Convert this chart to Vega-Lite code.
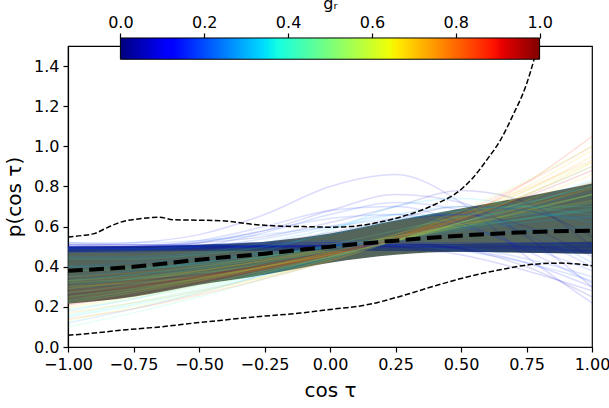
{
  "$schema": "https://vega.github.io/schema/vega-lite/v6.json",
  "width": 524,
  "height": 301,
  "autosize": {"type": "none"},
  "padding": {"left": 68, "top": 46, "right": 17, "bottom": 61},
  "background": "white",
  "config": {
    "font": "DejaVu Sans",
    "view": {"stroke": "black", "strokeWidth": 1.2},
    "axis": {
      "labelFont": "DejaVu Sans", "titleFont": "DejaVu Sans",
      "labelFontSize": 16, "titleFontSize": 20, "titleFontWeight": "normal",
      "labelColor": "black", "titleColor": "black", "tickColor": "black", "domainColor": "black",
      "tickSize": 5, "tickWidth": 1.2, "domainWidth": 1.2, "grid": false,
      "labelFlush": false, "labelOverlap": false
    }
  },
  "datasets": {
    "band": [
      {"x": -1, "lo": 0.215, "hi": 0.50},
      {"x": -0.75, "lo": 0.25, "hi": 0.50},
      {"x": -0.5, "lo": 0.31, "hi": 0.51},
      {"x": -0.25, "lo": 0.36, "hi": 0.525},
      {"x": 0, "lo": 0.42, "hi": 0.565},
      {"x": 0.25, "lo": 0.46, "hi": 0.63},
      {"x": 0.5, "lo": 0.475, "hi": 0.69},
      {"x": 0.75, "lo": 0.47, "hi": 0.75},
      {"x": 1, "lo": 0.465, "hi": 0.815}
    ],
    "blue": [
      {"x": -1, "lo": 0.472, "hi": 0.50},
      {"x": -0.5, "lo": 0.478, "hi": 0.508},
      {"x": 0, "lo": 0.48, "hi": 0.51},
      {"x": 0.5, "lo": 0.475, "hi": 0.515},
      {"x": 1, "lo": 0.465, "hi": 0.525}
    ],
    "lines": [
      {"id":1,"g":0.03,"x":-1,"p":0.5},{"id":1,"g":0.03,"x":-0.75,"p":0.5},{"id":1,"g":0.03,"x":-0.5,"p":0.5},{"id":1,"g":0.03,"x":-0.25,"p":0.5},{"id":1,"g":0.03,"x":0,"p":0.5},{"id":1,"g":0.03,"x":0.25,"p":0.5},{"id":1,"g":0.03,"x":0.5,"p":0.5},{"id":1,"g":0.03,"x":0.75,"p":0.5},{"id":1,"g":0.03,"x":1,"p":0.5},
      {"id":2,"g":0.06,"x":-1,"p":0.49},{"id":2,"g":0.06,"x":-0.75,"p":0.49},{"id":2,"g":0.06,"x":-0.5,"p":0.495},{"id":2,"g":0.06,"x":-0.25,"p":0.5},{"id":2,"g":0.06,"x":0,"p":0.505},{"id":2,"g":0.06,"x":0.25,"p":0.51},{"id":2,"g":0.06,"x":0.5,"p":0.51},{"id":2,"g":0.06,"x":0.75,"p":0.5},{"id":2,"g":0.06,"x":1,"p":0.48},
      {"id":3,"g":0.09,"x":-1,"p":0.51},{"id":3,"g":0.09,"x":-0.75,"p":0.51},{"id":3,"g":0.09,"x":-0.5,"p":0.505},{"id":3,"g":0.09,"x":-0.25,"p":0.5},{"id":3,"g":0.09,"x":0,"p":0.5},{"id":3,"g":0.09,"x":0.25,"p":0.5},{"id":3,"g":0.09,"x":0.5,"p":0.495},{"id":3,"g":0.09,"x":0.75,"p":0.49},{"id":3,"g":0.09,"x":1,"p":0.475},
      {"id":4,"g":0.12,"x":-1,"p":0.48},{"id":4,"g":0.12,"x":-0.75,"p":0.485},{"id":4,"g":0.12,"x":-0.5,"p":0.49},{"id":4,"g":0.12,"x":-0.25,"p":0.5},{"id":4,"g":0.12,"x":0,"p":0.51},{"id":4,"g":0.12,"x":0.25,"p":0.515},{"id":4,"g":0.12,"x":0.5,"p":0.52},{"id":4,"g":0.12,"x":0.75,"p":0.52},{"id":4,"g":0.12,"x":1,"p":0.515},
      {"id":5,"g":0.08,"x":-1,"p":0.5},{"id":5,"g":0.08,"x":-0.75,"p":0.5},{"id":5,"g":0.08,"x":-0.5,"p":0.52},{"id":5,"g":0.08,"x":-0.25,"p":0.58},{"id":5,"g":0.08,"x":0,"p":0.68},{"id":5,"g":0.08,"x":0.25,"p":0.76},{"id":5,"g":0.08,"x":0.5,"p":0.72},{"id":5,"g":0.08,"x":0.75,"p":0.55},{"id":5,"g":0.08,"x":1,"p":0.3},
      {"id":6,"g":0.14,"x":-1,"p":0.48},{"id":6,"g":0.14,"x":-0.75,"p":0.47},{"id":6,"g":0.14,"x":-0.5,"p":0.5},{"id":6,"g":0.14,"x":-0.25,"p":0.57},{"id":6,"g":0.14,"x":0,"p":0.66},{"id":6,"g":0.14,"x":0.25,"p":0.72},{"id":6,"g":0.14,"x":0.5,"p":0.68},{"id":6,"g":0.14,"x":0.75,"p":0.56},{"id":6,"g":0.14,"x":1,"p":0.4},
      {"id":7,"g":0.05,"x":-1,"p":0.52},{"id":7,"g":0.05,"x":-0.75,"p":0.51},{"id":7,"g":0.05,"x":-0.5,"p":0.52},{"id":7,"g":0.05,"x":-0.25,"p":0.55},{"id":7,"g":0.05,"x":0,"p":0.62},{"id":7,"g":0.05,"x":0.25,"p":0.7},{"id":7,"g":0.05,"x":0.5,"p":0.78},{"id":7,"g":0.05,"x":0.75,"p":0.72},{"id":7,"g":0.05,"x":1,"p":0.5},
      {"id":8,"g":0.18,"x":-1,"p":0.5},{"id":8,"g":0.18,"x":-0.75,"p":0.49},{"id":8,"g":0.18,"x":-0.5,"p":0.5},{"id":8,"g":0.18,"x":-0.25,"p":0.54},{"id":8,"g":0.18,"x":0,"p":0.6},{"id":8,"g":0.18,"x":0.25,"p":0.66},{"id":8,"g":0.18,"x":0.5,"p":0.66},{"id":8,"g":0.18,"x":0.75,"p":0.58},{"id":8,"g":0.18,"x":1,"p":0.42},
      {"id":9,"g":0.1,"x":-1,"p":0.51},{"id":9,"g":0.1,"x":-0.75,"p":0.52},{"id":9,"g":0.1,"x":-0.5,"p":0.56},{"id":9,"g":0.1,"x":-0.25,"p":0.66},{"id":9,"g":0.1,"x":0,"p":0.8},{"id":9,"g":0.1,"x":0.25,"p":0.86},{"id":9,"g":0.1,"x":0.5,"p":0.72},{"id":9,"g":0.1,"x":0.75,"p":0.45},{"id":9,"g":0.1,"x":1,"p":0.22},
      {"id":10,"g":0.04,"x":-1,"p":0.5},{"id":10,"g":0.04,"x":-0.75,"p":0.5},{"id":10,"g":0.04,"x":-0.5,"p":0.505},{"id":10,"g":0.04,"x":-0.25,"p":0.51},{"id":10,"g":0.04,"x":0,"p":0.52},{"id":10,"g":0.04,"x":0.25,"p":0.52},{"id":10,"g":0.04,"x":0.5,"p":0.49},{"id":10,"g":0.04,"x":0.75,"p":0.4},{"id":10,"g":0.04,"x":1,"p":0.25},
      {"id":11,"g":0.11,"x":-1,"p":0.49},{"id":11,"g":0.11,"x":-0.75,"p":0.495},{"id":11,"g":0.11,"x":-0.5,"p":0.5},{"id":11,"g":0.11,"x":-0.25,"p":0.505},{"id":11,"g":0.11,"x":0,"p":0.51},{"id":11,"g":0.11,"x":0.25,"p":0.51},{"id":11,"g":0.11,"x":0.5,"p":0.49},{"id":11,"g":0.11,"x":0.75,"p":0.42},{"id":11,"g":0.11,"x":1,"p":0.3},
      {"id":12,"g":0.16,"x":-1,"p":0.5},{"id":12,"g":0.16,"x":-0.75,"p":0.5},{"id":12,"g":0.16,"x":-0.5,"p":0.51},{"id":12,"g":0.16,"x":-0.25,"p":0.52},{"id":12,"g":0.16,"x":0,"p":0.53},{"id":12,"g":0.16,"x":0.25,"p":0.53},{"id":12,"g":0.16,"x":0.5,"p":0.5},{"id":12,"g":0.16,"x":0.75,"p":0.44},{"id":12,"g":0.16,"x":1,"p":0.35},
      {"id":13,"g":0.25,"x":-1,"p":0.12},{"id":13,"g":0.25,"x":-0.75,"p":0.19},{"id":13,"g":0.25,"x":-0.5,"p":0.27},{"id":13,"g":0.25,"x":-0.25,"p":0.36},{"id":13,"g":0.25,"x":0,"p":0.45},{"id":13,"g":0.25,"x":0.25,"p":0.54},{"id":13,"g":0.25,"x":0.5,"p":0.63},{"id":13,"g":0.25,"x":0.75,"p":0.72},{"id":13,"g":0.25,"x":1,"p":0.8},
      {"id":14,"g":0.35,"x":-1,"p":0.15},{"id":14,"g":0.35,"x":-0.75,"p":0.21},{"id":14,"g":0.35,"x":-0.5,"p":0.28},{"id":14,"g":0.35,"x":-0.25,"p":0.36},{"id":14,"g":0.35,"x":0,"p":0.44},{"id":14,"g":0.35,"x":0.25,"p":0.53},{"id":14,"g":0.35,"x":0.5,"p":0.62},{"id":14,"g":0.35,"x":0.75,"p":0.72},{"id":14,"g":0.35,"x":1,"p":0.83},
      {"id":15,"g":0.45,"x":-1,"p":0.1},{"id":15,"g":0.45,"x":-0.75,"p":0.17},{"id":15,"g":0.45,"x":-0.5,"p":0.25},{"id":15,"g":0.45,"x":-0.25,"p":0.34},{"id":15,"g":0.45,"x":0,"p":0.43},{"id":15,"g":0.45,"x":0.25,"p":0.53},{"id":15,"g":0.45,"x":0.5,"p":0.64},{"id":15,"g":0.45,"x":0.75,"p":0.76},{"id":15,"g":0.45,"x":1,"p":0.9},
      {"id":16,"g":0.6,"x":-1,"p":0.13},{"id":16,"g":0.6,"x":-0.75,"p":0.2},{"id":16,"g":0.6,"x":-0.5,"p":0.27},{"id":16,"g":0.6,"x":-0.25,"p":0.35},{"id":16,"g":0.6,"x":0,"p":0.44},{"id":16,"g":0.6,"x":0.25,"p":0.54},{"id":16,"g":0.6,"x":0.5,"p":0.65},{"id":16,"g":0.6,"x":0.75,"p":0.78},{"id":16,"g":0.6,"x":1,"p":0.92},
      {"id":17,"g":0.75,"x":-1,"p":0.17},{"id":17,"g":0.75,"x":-0.75,"p":0.22},{"id":17,"g":0.75,"x":-0.5,"p":0.28},{"id":17,"g":0.75,"x":-0.25,"p":0.35},{"id":17,"g":0.75,"x":0,"p":0.43},{"id":17,"g":0.75,"x":0.25,"p":0.53},{"id":17,"g":0.75,"x":0.5,"p":0.64},{"id":17,"g":0.75,"x":0.75,"p":0.78},{"id":17,"g":0.75,"x":1,"p":0.95},
      {"id":18,"g":0.85,"x":-1,"p":0.14},{"id":18,"g":0.85,"x":-0.75,"p":0.19},{"id":18,"g":0.85,"x":-0.5,"p":0.26},{"id":18,"g":0.85,"x":-0.25,"p":0.34},{"id":18,"g":0.85,"x":0,"p":0.43},{"id":18,"g":0.85,"x":0.25,"p":0.54},{"id":18,"g":0.85,"x":0.5,"p":0.67},{"id":18,"g":0.85,"x":0.75,"p":0.82},{"id":18,"g":0.85,"x":1,"p":1.0},
      {"id":19,"g":0.3,"x":-1,"p":0.18},{"id":19,"g":0.3,"x":-0.75,"p":0.24},{"id":19,"g":0.3,"x":-0.5,"p":0.31},{"id":19,"g":0.3,"x":-0.25,"p":0.38},{"id":19,"g":0.3,"x":0,"p":0.46},{"id":19,"g":0.3,"x":0.25,"p":0.54},{"id":19,"g":0.3,"x":0.5,"p":0.62},{"id":19,"g":0.3,"x":0.75,"p":0.7},{"id":19,"g":0.3,"x":1,"p":0.77},
      {"id":20,"g":0.22,"x":-1,"p":0.4},{"id":20,"g":0.22,"x":-0.75,"p":0.42},{"id":20,"g":0.22,"x":-0.5,"p":0.44},{"id":20,"g":0.22,"x":-0.25,"p":0.47},{"id":20,"g":0.22,"x":0,"p":0.5},{"id":20,"g":0.22,"x":0.25,"p":0.53},{"id":20,"g":0.22,"x":0.5,"p":0.56},{"id":20,"g":0.22,"x":0.75,"p":0.58},{"id":20,"g":0.22,"x":1,"p":0.6},
      {"id":21,"g":0.28,"x":-1,"p":0.35},{"id":21,"g":0.28,"x":-0.75,"p":0.38},{"id":21,"g":0.28,"x":-0.5,"p":0.42},{"id":21,"g":0.28,"x":-0.25,"p":0.46},{"id":21,"g":0.28,"x":0,"p":0.5},{"id":21,"g":0.28,"x":0.25,"p":0.54},{"id":21,"g":0.28,"x":0.5,"p":0.58},{"id":21,"g":0.28,"x":0.75,"p":0.62},{"id":21,"g":0.28,"x":1,"p":0.65},
      {"id":22,"g":0.4,"x":-1,"p":0.3},{"id":22,"g":0.4,"x":-0.75,"p":0.34},{"id":22,"g":0.4,"x":-0.5,"p":0.39},{"id":22,"g":0.4,"x":-0.25,"p":0.44},{"id":22,"g":0.4,"x":0,"p":0.49},{"id":22,"g":0.4,"x":0.25,"p":0.54},{"id":22,"g":0.4,"x":0.5,"p":0.59},{"id":22,"g":0.4,"x":0.75,"p":0.64},{"id":22,"g":0.4,"x":1,"p":0.69},
      {"id":23,"g":0.5,"x":-1,"p":0.27},{"id":23,"g":0.5,"x":-0.75,"p":0.31},{"id":23,"g":0.5,"x":-0.5,"p":0.36},{"id":23,"g":0.5,"x":-0.25,"p":0.42},{"id":23,"g":0.5,"x":0,"p":0.48},{"id":23,"g":0.5,"x":0.25,"p":0.54},{"id":23,"g":0.5,"x":0.5,"p":0.6},{"id":23,"g":0.5,"x":0.75,"p":0.66},{"id":23,"g":0.5,"x":1,"p":0.72},
      {"id":24,"g":0.55,"x":-1,"p":0.23},{"id":24,"g":0.55,"x":-0.75,"p":0.28},{"id":24,"g":0.55,"x":-0.5,"p":0.34},{"id":24,"g":0.55,"x":-0.25,"p":0.4},{"id":24,"g":0.55,"x":0,"p":0.47},{"id":24,"g":0.55,"x":0.25,"p":0.54},{"id":24,"g":0.55,"x":0.5,"p":0.61},{"id":24,"g":0.55,"x":0.75,"p":0.68},{"id":24,"g":0.55,"x":1,"p":0.76},
      {"id":25,"g":0.65,"x":-1,"p":0.25},{"id":25,"g":0.65,"x":-0.75,"p":0.29},{"id":25,"g":0.65,"x":-0.5,"p":0.34},{"id":25,"g":0.65,"x":-0.25,"p":0.4},{"id":25,"g":0.65,"x":0,"p":0.46},{"id":25,"g":0.65,"x":0.25,"p":0.53},{"id":25,"g":0.65,"x":0.5,"p":0.6},{"id":25,"g":0.65,"x":0.75,"p":0.68},{"id":25,"g":0.65,"x":1,"p":0.76},
      {"id":26,"g":0.7,"x":-1,"p":0.22},{"id":26,"g":0.7,"x":-0.75,"p":0.27},{"id":26,"g":0.7,"x":-0.5,"p":0.33},{"id":26,"g":0.7,"x":-0.25,"p":0.4},{"id":26,"g":0.7,"x":0,"p":0.47},{"id":26,"g":0.7,"x":0.25,"p":0.54},{"id":26,"g":0.7,"x":0.5,"p":0.62},{"id":26,"g":0.7,"x":0.75,"p":0.7},{"id":26,"g":0.7,"x":1,"p":0.79},
      {"id":27,"g":0.8,"x":-1,"p":0.24},{"id":27,"g":0.8,"x":-0.75,"p":0.28},{"id":27,"g":0.8,"x":-0.5,"p":0.33},{"id":27,"g":0.8,"x":-0.25,"p":0.39},{"id":27,"g":0.8,"x":0,"p":0.46},{"id":27,"g":0.8,"x":0.25,"p":0.53},{"id":27,"g":0.8,"x":0.5,"p":0.61},{"id":27,"g":0.8,"x":0.75,"p":0.7},{"id":27,"g":0.8,"x":1,"p":0.8},
      {"id":28,"g":0.9,"x":-1,"p":0.21},{"id":28,"g":0.9,"x":-0.75,"p":0.26},{"id":28,"g":0.9,"x":-0.5,"p":0.32},{"id":28,"g":0.9,"x":-0.25,"p":0.39},{"id":28,"g":0.9,"x":0,"p":0.46},{"id":28,"g":0.9,"x":0.25,"p":0.54},{"id":28,"g":0.9,"x":0.5,"p":0.63},{"id":28,"g":0.9,"x":0.75,"p":0.72},{"id":28,"g":0.9,"x":1,"p":0.82},
      {"id":29,"g":0.95,"x":-1,"p":0.26},{"id":29,"g":0.95,"x":-0.75,"p":0.3},{"id":29,"g":0.95,"x":-0.5,"p":0.35},{"id":29,"g":0.95,"x":-0.25,"p":0.41},{"id":29,"g":0.95,"x":0,"p":0.47},{"id":29,"g":0.95,"x":0.25,"p":0.54},{"id":29,"g":0.95,"x":0.5,"p":0.61},{"id":29,"g":0.95,"x":0.75,"p":0.69},{"id":29,"g":0.95,"x":1,"p":0.77},
      {"id":30,"g":0.38,"x":-1,"p":0.33},{"id":30,"g":0.38,"x":-0.75,"p":0.36},{"id":30,"g":0.38,"x":-0.5,"p":0.4},{"id":30,"g":0.38,"x":-0.25,"p":0.45},{"id":30,"g":0.38,"x":0,"p":0.5},{"id":30,"g":0.38,"x":0.25,"p":0.55},{"id":30,"g":0.38,"x":0.5,"p":0.6},{"id":30,"g":0.38,"x":0.75,"p":0.64},{"id":30,"g":0.38,"x":1,"p":0.68},
      {"id":31,"g":0.62,"x":-1,"p":0.29},{"id":31,"g":0.62,"x":-0.75,"p":0.33},{"id":31,"g":0.62,"x":-0.5,"p":0.38},{"id":31,"g":0.62,"x":-0.25,"p":0.43},{"id":31,"g":0.62,"x":0,"p":0.49},{"id":31,"g":0.62,"x":0.25,"p":0.55},{"id":31,"g":0.62,"x":0.5,"p":0.61},{"id":31,"g":0.62,"x":0.75,"p":0.67},{"id":31,"g":0.62,"x":1,"p":0.73},
      {"id":32,"g":0.7,"x":-1,"p":0.3},{"id":32,"g":0.7,"x":-0.75,"p":0.32},{"id":32,"g":0.7,"x":-0.5,"p":0.35},{"id":32,"g":0.7,"x":-0.25,"p":0.4},{"id":32,"g":0.7,"x":0,"p":0.46},{"id":32,"g":0.7,"x":0.25,"p":0.55},{"id":32,"g":0.7,"x":0.5,"p":0.66},{"id":32,"g":0.7,"x":0.75,"p":0.8},{"id":32,"g":0.7,"x":1,"p":0.98},
      {"id":33,"g":0.88,"x":-1,"p":0.28},{"id":33,"g":0.88,"x":-0.75,"p":0.31},{"id":33,"g":0.88,"x":-0.5,"p":0.35},{"id":33,"g":0.88,"x":-0.25,"p":0.4},{"id":33,"g":0.88,"x":0,"p":0.46},{"id":33,"g":0.88,"x":0.25,"p":0.54},{"id":33,"g":0.88,"x":0.5,"p":0.65},{"id":33,"g":0.88,"x":0.75,"p":0.82},{"id":33,"g":0.88,"x":1,"p":1.05},
      {"id":34,"g":0.58,"x":-1,"p":0.32},{"id":34,"g":0.58,"x":-0.75,"p":0.34},{"id":34,"g":0.58,"x":-0.5,"p":0.37},{"id":34,"g":0.58,"x":-0.25,"p":0.41},{"id":34,"g":0.58,"x":0,"p":0.47},{"id":34,"g":0.58,"x":0.25,"p":0.56},{"id":34,"g":0.58,"x":0.5,"p":0.68},{"id":34,"g":0.58,"x":0.75,"p":0.83},{"id":34,"g":0.58,"x":1,"p":1.0},
      {"id":35,"g":0.78,"x":-1,"p":0.35},{"id":35,"g":0.78,"x":-0.75,"p":0.37},{"id":35,"g":0.78,"x":-0.5,"p":0.4},{"id":35,"g":0.78,"x":-0.25,"p":0.44},{"id":35,"g":0.78,"x":0,"p":0.49},{"id":35,"g":0.78,"x":0.25,"p":0.56},{"id":35,"g":0.78,"x":0.5,"p":0.66},{"id":35,"g":0.78,"x":0.75,"p":0.79},{"id":35,"g":0.78,"x":1,"p":0.93},
      {"id":36,"g":0.33,"x":-1,"p":0.4},{"id":36,"g":0.33,"x":-0.75,"p":0.4},{"id":36,"g":0.33,"x":-0.5,"p":0.42},{"id":36,"g":0.33,"x":-0.25,"p":0.48},{"id":36,"g":0.33,"x":0,"p":0.58},{"id":36,"g":0.33,"x":0.25,"p":0.7},{"id":36,"g":0.33,"x":0.5,"p":0.74},{"id":36,"g":0.33,"x":0.75,"p":0.7},{"id":36,"g":0.33,"x":1,"p":0.66},
      {"id":37,"g":0.2,"x":-1,"p":0.52},{"id":37,"g":0.2,"x":-0.75,"p":0.52},{"id":37,"g":0.2,"x":-0.5,"p":0.53},{"id":37,"g":0.2,"x":-0.25,"p":0.56},{"id":37,"g":0.2,"x":0,"p":0.6},{"id":37,"g":0.2,"x":0.25,"p":0.64},{"id":37,"g":0.2,"x":0.5,"p":0.66},{"id":37,"g":0.2,"x":0.75,"p":0.66},{"id":37,"g":0.2,"x":1,"p":0.64},
      {"id":38,"g":0.07,"x":-1,"p":0.5},{"id":38,"g":0.07,"x":-0.75,"p":0.49},{"id":38,"g":0.07,"x":-0.5,"p":0.49},{"id":38,"g":0.07,"x":-0.25,"p":0.51},{"id":38,"g":0.07,"x":0,"p":0.56},{"id":38,"g":0.07,"x":0.25,"p":0.63},{"id":38,"g":0.07,"x":0.5,"p":0.66},{"id":38,"g":0.07,"x":0.75,"p":0.6},{"id":38,"g":0.07,"x":1,"p":0.45},
      {"id":39,"g":0.13,"x":-1,"p":0.49},{"id":39,"g":0.13,"x":-0.75,"p":0.5},{"id":39,"g":0.13,"x":-0.5,"p":0.53},{"id":39,"g":0.13,"x":-0.25,"p":0.6},{"id":39,"g":0.13,"x":0,"p":0.68},{"id":39,"g":0.13,"x":0.25,"p":0.7},{"id":39,"g":0.13,"x":0.5,"p":0.62},{"id":39,"g":0.13,"x":0.75,"p":0.48},{"id":39,"g":0.13,"x":1,"p":0.32},
      {"id":40,"g":0.02,"x":-1,"p":0.51},{"id":40,"g":0.02,"x":-0.75,"p":0.5},{"id":40,"g":0.02,"x":-0.5,"p":0.5},{"id":40,"g":0.02,"x":-0.25,"p":0.52},{"id":40,"g":0.02,"x":0,"p":0.57},{"id":40,"g":0.02,"x":0.25,"p":0.64},{"id":40,"g":0.02,"x":0.5,"p":0.7},{"id":40,"g":0.02,"x":0.75,"p":0.68},{"id":40,"g":0.02,"x":1,"p":0.55},
      {"id":41,"g":0.15,"x":-1,"p":0.47},{"id":41,"g":0.15,"x":-0.75,"p":0.48},{"id":41,"g":0.15,"x":-0.5,"p":0.52},{"id":41,"g":0.15,"x":-0.25,"p":0.58},{"id":41,"g":0.15,"x":0,"p":0.64},{"id":41,"g":0.15,"x":0.25,"p":0.66},{"id":41,"g":0.15,"x":0.5,"p":0.6},{"id":41,"g":0.15,"x":0.75,"p":0.5},{"id":41,"g":0.15,"x":1,"p":0.38},
      {"id":42,"g":0.09,"x":-1,"p":0.5},{"id":42,"g":0.09,"x":-0.75,"p":0.51},{"id":42,"g":0.09,"x":-0.5,"p":0.51},{"id":42,"g":0.09,"x":-0.25,"p":0.52},{"id":42,"g":0.09,"x":0,"p":0.52},{"id":42,"g":0.09,"x":0.25,"p":0.5},{"id":42,"g":0.09,"x":0.5,"p":0.46},{"id":42,"g":0.09,"x":0.75,"p":0.38},{"id":42,"g":0.09,"x":1,"p":0.28},
      {"id":43,"g":0.17,"x":-1,"p":0.49},{"id":43,"g":0.17,"x":-0.75,"p":0.49},{"id":43,"g":0.17,"x":-0.5,"p":0.5},{"id":43,"g":0.17,"x":-0.25,"p":0.51},{"id":43,"g":0.17,"x":0,"p":0.52},{"id":43,"g":0.17,"x":0.25,"p":0.51},{"id":43,"g":0.17,"x":0.5,"p":0.48},{"id":43,"g":0.17,"x":0.75,"p":0.42},{"id":43,"g":0.17,"x":1,"p":0.33},
      {"id":44,"g":0.42,"x":-1,"p":0.16},{"id":44,"g":0.42,"x":-0.75,"p":0.22},{"id":44,"g":0.42,"x":-0.5,"p":0.29},{"id":44,"g":0.42,"x":-0.25,"p":0.37},{"id":44,"g":0.42,"x":0,"p":0.45},{"id":44,"g":0.42,"x":0.25,"p":0.53},{"id":44,"g":0.42,"x":0.5,"p":0.61},{"id":44,"g":0.42,"x":0.75,"p":0.69},{"id":44,"g":0.42,"x":1,"p":0.76},
      {"id":45,"g":0.52,"x":-1,"p":0.19},{"id":45,"g":0.52,"x":-0.75,"p":0.24},{"id":45,"g":0.52,"x":-0.5,"p":0.3},{"id":45,"g":0.52,"x":-0.25,"p":0.37},{"id":45,"g":0.52,"x":0,"p":0.45},{"id":45,"g":0.52,"x":0.25,"p":0.53},{"id":45,"g":0.52,"x":0.5,"p":0.62},{"id":45,"g":0.52,"x":0.75,"p":0.71},{"id":45,"g":0.52,"x":1,"p":0.82},
      {"id":46,"g":0.68,"x":-1,"p":0.2},{"id":46,"g":0.68,"x":-0.75,"p":0.25},{"id":46,"g":0.68,"x":-0.5,"p":0.31},{"id":46,"g":0.68,"x":-0.25,"p":0.38},{"id":46,"g":0.68,"x":0,"p":0.45},{"id":46,"g":0.68,"x":0.25,"p":0.53},{"id":46,"g":0.68,"x":0.5,"p":0.62},{"id":46,"g":0.68,"x":0.75,"p":0.73},{"id":46,"g":0.68,"x":1,"p":0.86},
      {"id":47,"g":0.82,"x":-1,"p":0.27},{"id":47,"g":0.82,"x":-0.75,"p":0.3},{"id":47,"g":0.82,"x":-0.5,"p":0.34},{"id":47,"g":0.82,"x":-0.25,"p":0.39},{"id":47,"g":0.82,"x":0,"p":0.45},{"id":47,"g":0.82,"x":0.25,"p":0.53},{"id":47,"g":0.82,"x":0.5,"p":0.63},{"id":47,"g":0.82,"x":0.75,"p":0.76},{"id":47,"g":0.82,"x":1,"p":0.9},
      {"id":48,"g":0.93,"x":-1,"p":0.3},{"id":48,"g":0.93,"x":-0.75,"p":0.33},{"id":48,"g":0.93,"x":-0.5,"p":0.36},{"id":48,"g":0.93,"x":-0.25,"p":0.41},{"id":48,"g":0.93,"x":0,"p":0.47},{"id":48,"g":0.93,"x":0.25,"p":0.55},{"id":48,"g":0.93,"x":0.5,"p":0.64},{"id":48,"g":0.93,"x":0.75,"p":0.75},{"id":48,"g":0.93,"x":1,"p":0.88},
      {"id":49,"g":0.72,"x":-1,"p":0.33},{"id":49,"g":0.72,"x":-0.75,"p":0.35},{"id":49,"g":0.72,"x":-0.5,"p":0.38},{"id":49,"g":0.72,"x":-0.25,"p":0.43},{"id":49,"g":0.72,"x":0,"p":0.48},{"id":49,"g":0.72,"x":0.25,"p":0.55},{"id":49,"g":0.72,"x":0.5,"p":0.64},{"id":49,"g":0.72,"x":0.75,"p":0.76},{"id":49,"g":0.72,"x":1,"p":0.92},
      {"id":50,"g":0.36,"x":-1,"p":0.44},{"id":50,"g":0.36,"x":-0.75,"p":0.44},{"id":50,"g":0.36,"x":-0.5,"p":0.46},{"id":50,"g":0.36,"x":-0.25,"p":0.5},{"id":50,"g":0.36,"x":0,"p":0.56},{"id":50,"g":0.36,"x":0.25,"p":0.63},{"id":50,"g":0.36,"x":0.5,"p":0.68},{"id":50,"g":0.36,"x":0.75,"p":0.7},{"id":50,"g":0.36,"x":1,"p":0.7},
      {"id":51,"g":0.26,"x":-1,"p":0.45},{"id":51,"g":0.26,"x":-0.75,"p":0.45},{"id":51,"g":0.26,"x":-0.5,"p":0.47},{"id":51,"g":0.26,"x":-0.25,"p":0.52},{"id":51,"g":0.26,"x":0,"p":0.59},{"id":51,"g":0.26,"x":0.25,"p":0.66},{"id":51,"g":0.26,"x":0.5,"p":0.7},{"id":51,"g":0.26,"x":0.75,"p":0.68},{"id":51,"g":0.26,"x":1,"p":0.62},
      {"id":52,"g":0.48,"x":-1,"p":0.38},{"id":52,"g":0.48,"x":-0.75,"p":0.39},{"id":52,"g":0.48,"x":-0.5,"p":0.41},{"id":52,"g":0.48,"x":-0.25,"p":0.45},{"id":52,"g":0.48,"x":0,"p":0.51},{"id":52,"g":0.48,"x":0.25,"p":0.58},{"id":52,"g":0.48,"x":0.5,"p":0.65},{"id":52,"g":0.48,"x":0.75,"p":0.72},{"id":52,"g":0.48,"x":1,"p":0.8}
    ],
    "q": [
      {"s":"hi","x":-1,"p":0.548},{"s":"hi","x":-0.95,"p":0.555},{"s":"hi","x":-0.9,"p":0.565},{"s":"hi","x":-0.85,"p":0.595},{"s":"hi","x":-0.8,"p":0.622},{"s":"hi","x":-0.72,"p":0.64},{"s":"hi","x":-0.65,"p":0.647},{"s":"hi","x":-0.6,"p":0.634},{"s":"hi","x":-0.5,"p":0.632},{"s":"hi","x":-0.4,"p":0.628},{"s":"hi","x":-0.3,"p":0.612},{"s":"hi","x":-0.2,"p":0.603},{"s":"hi","x":-0.1,"p":0.6},{"s":"hi","x":0,"p":0.597},{"s":"hi","x":0.1,"p":0.603},{"s":"hi","x":0.2,"p":0.625},{"s":"hi","x":0.3,"p":0.66},{"s":"hi","x":0.4,"p":0.71},{"s":"hi","x":0.5,"p":0.785},{"s":"hi","x":0.55,"p":0.85},{"s":"hi","x":0.6,"p":0.935},{"s":"hi","x":0.65,"p":1.03},{"s":"hi","x":0.7,"p":1.16},{"s":"hi","x":0.75,"p":1.31},{"s":"hi","x":0.78,"p":1.44},{"s":"hi","x":0.8,"p":1.55},{"s":"hi","x":0.83,"p":1.75},
      {"s":"lo","x":-1,"p":0.058},{"s":"lo","x":-0.9,"p":0.07},{"s":"lo","x":-0.776,"p":0.086},{"s":"lo","x":-0.65,"p":0.1},{"s":"lo","x":-0.52,"p":0.119},{"s":"lo","x":-0.4,"p":0.135},{"s":"lo","x":-0.267,"p":0.152},{"s":"lo","x":-0.115,"p":0.169},{"s":"lo","x":0.013,"p":0.189},{"s":"lo","x":0.14,"p":0.21},{"s":"lo","x":0.267,"p":0.252},{"s":"lo","x":0.394,"p":0.302},{"s":"lo","x":0.52,"p":0.348},{"s":"lo","x":0.649,"p":0.385},{"s":"lo","x":0.776,"p":0.412},{"s":"lo","x":0.878,"p":0.418},{"s":"lo","x":1,"p":0.405}
    ],
    "med": [
      {"x":-1,"p":0.38},{"x":-0.75,"p":0.4},{"x":-0.5,"p":0.435},{"x":-0.25,"p":0.465},{"x":0,"p":0.5},{"x":0.25,"p":0.53},{"x":0.5,"p":0.555},{"x":0.75,"p":0.572},{"x":1,"p":0.58}
    ]
  },
  "layer": [
    {
      "layer": [
        {
          "data": {"name": "band"},
          "mark": {"type": "area", "interpolate": "monotone", "color": "#3c5044", "opacity": 0.88},
          "encoding": {
            "x": {"field": "x", "type": "quantitative", "scale": {"domain": [-1, 1], "nice": false},
              "axis": {"values": [-1, -0.75, -0.5, -0.25, 0, 0.25, 0.5, 0.75, 1], "format": ".2f", "title": "cos τ", "labelPadding": 4, "titlePadding": 8, "orient": "bottom"}},
            "y": {"field": "lo", "type": "quantitative", "scale": {"domain": [0, 1.5], "nice": false, "zero": false},
              "axis": {"values": [0, 0.2, 0.4, 0.6, 0.8, 1.0, 1.2, 1.4], "format": ".1f", "title": "p(cos τ)", "labelPadding": 4, "titlePadding": 9}},
            "y2": {"field": "hi"}
          }
        },
        {
          "data": {"name": "blue"},
          "mark": {"type": "area", "interpolate": "monotone", "color": "#1c3670", "opacity": 0.75},
          "encoding": {
            "x": {"field": "x", "type": "quantitative"},
            "y": {"field": "lo", "type": "quantitative"},
            "y2": {"field": "hi"}
          }
        },
        {
          "data": {"name": "lines"},
          "mark": {"type": "line", "interpolate": "monotone", "strokeWidth": 1.5, "opacity": 0.14, "clip": true},
          "encoding": {
            "x": {"field": "x", "type": "quantitative"},
            "y": {"field": "p", "type": "quantitative"},
            "detail": {"field": "id", "type": "nominal"},
            "color": {"field": "g", "type": "quantitative", "legend": null,
              "scale": {"domain": [0, 0.11, 0.125, 0.34, 0.35, 0.375, 0.64, 0.65, 0.66, 0.89, 0.91, 1],
                "range": ["#000080", "#0000ff", "#0000ff", "#00dbff", "#00e5f7", "#14ffe2", "#eeff08", "#f7f500", "#ffec00", "#ff1300", "#e80000", "#800000"]}}
          }
        },
        {
          "data": {"name": "q"},
          "mark": {"type": "line", "interpolate": "monotone", "color": "black", "strokeWidth": 1.5, "strokeDash": [5.5, 2.4], "clip": true},
          "encoding": {
            "x": {"field": "x", "type": "quantitative"},
            "y": {"field": "p", "type": "quantitative"},
            "detail": {"field": "s", "type": "nominal"}
          }
        },
        {
          "data": {"name": "med"},
          "mark": {"type": "line", "interpolate": "monotone", "color": "black", "strokeWidth": 4, "strokeDash": [14.8, 6.4]},
          "encoding": {
            "x": {"field": "x", "type": "quantitative"},
            "y": {"field": "p", "type": "quantitative"}
          }
        }
      ]
    },
    {
      "data": {"values": [{}]},
      "mark": {"type": "rect", "clip": false, "stroke": "black", "strokeWidth": 1,
        "fill": {"gradient": "linear", "x1": 0, "y1": 0, "x2": 1, "y2": 0,
          "stops": [
            {"offset": 0, "color": "#000080"}, {"offset": 0.11, "color": "#0000ff"}, {"offset": 0.125, "color": "#0000ff"},
            {"offset": 0.34, "color": "#00dbff"}, {"offset": 0.35, "color": "#00e5f7"}, {"offset": 0.375, "color": "#14ffe2"},
            {"offset": 0.64, "color": "#eeff08"}, {"offset": 0.65, "color": "#f7f500"}, {"offset": 0.66, "color": "#ffec00"},
            {"offset": 0.89, "color": "#ff1300"}, {"offset": 0.91, "color": "#e80000"}, {"offset": 1, "color": "#800000"}
          ]}},
      "encoding": {
        "x": {"datum": 0, "type": "quantitative", "scale": {"domain": [-0.125, 1.125], "nice": false, "zero": false},
          "axis": {"orient": "top", "offset": 8, "domain": false, "values": [0, 0.2, 0.4, 0.6, 0.8, 1.0], "format": ".1f", "tickSize": 5, "labelPadding": 3, "title": "gᵣ", "titleFontSize": 16, "titlePadding": 3}},
        "x2": {"datum": 1},
        "y": {"datum": 1.54, "type": "quantitative", "scale": {"domain": [0, 1.5], "nice": false, "zero": false}},
        "y2": {"datum": 1.434}
      }
    }
  ],
  "resolve": {"scale": {"x": "independent"}, "axis": {"x": "independent"}}
}
